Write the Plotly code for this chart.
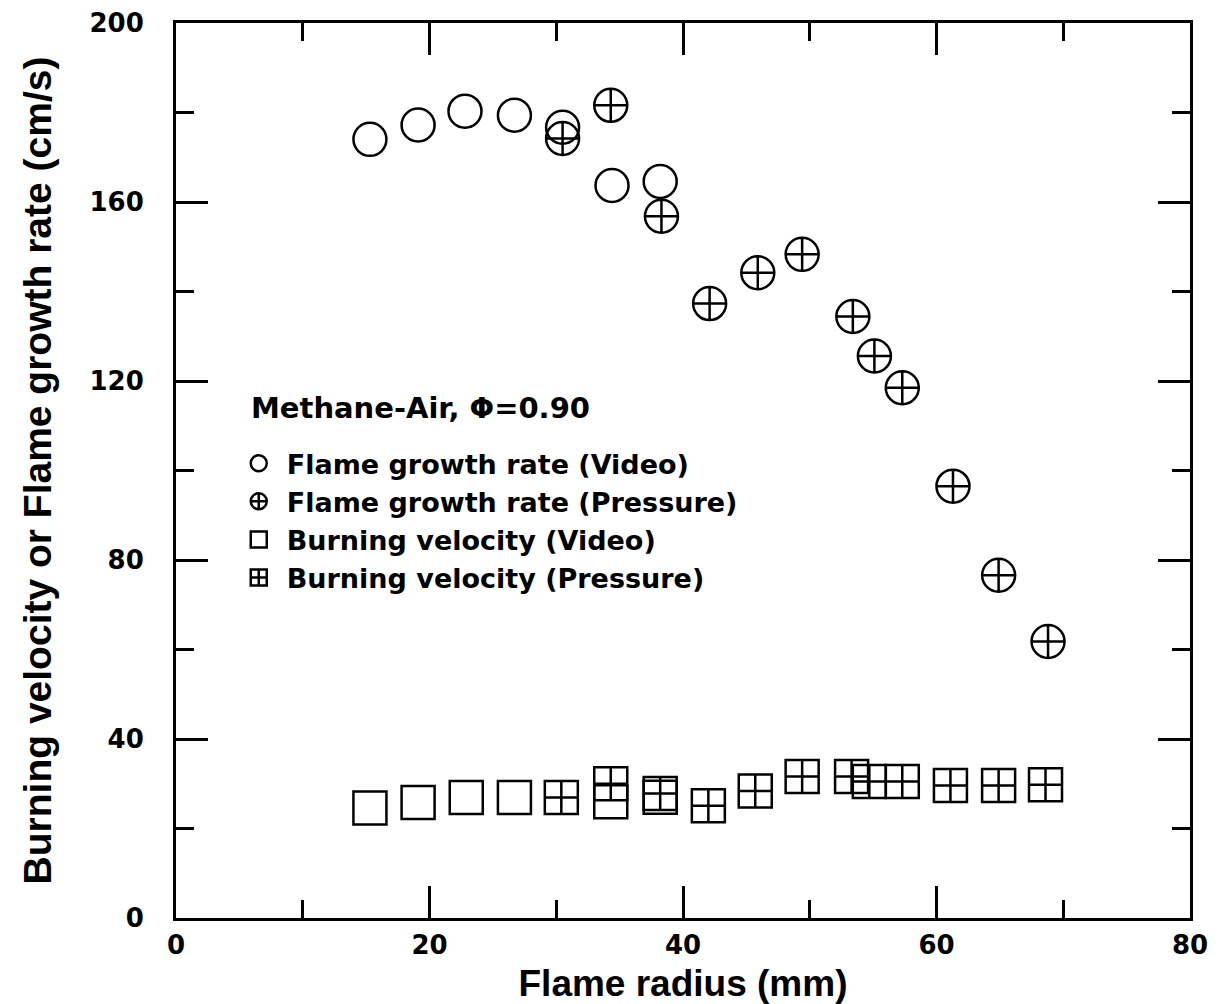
import plotly.graph_objects as go

# Flame growth rate (Video)
fgr_video_x = [15.3, 19.1, 22.8, 26.7, 30.5, 34.4, 38.2]
fgr_video_y = [174.0, 177.2, 180.3, 179.4, 176.7, 163.7, 164.6]

# Flame growth rate (Pressure)
fgr_press_x = [30.5, 34.3, 38.3, 42.1, 45.9, 49.4, 53.4, 55.1, 57.3, 61.3, 64.9, 68.8]
fgr_press_y = [174.2, 181.6, 156.8, 137.3, 144.2, 148.3, 134.4, 125.6, 118.5, 96.5, 76.6, 61.8]

# Burning velocity (Video)
bv_video_x = [15.3, 19.1, 22.9, 26.7, 34.3, 38.2]
bv_video_y = [24.6, 25.8, 26.9, 26.9, 26.0, 27.0]

# Burning velocity (Pressure)
bv_press_x = [30.4, 34.3, 38.2, 42.0, 45.7, 49.4, 53.3, 54.7, 57.3, 61.1, 64.9, 68.6]
bv_press_y = [26.9, 30.0, 27.8, 25.1, 28.4, 31.6, 31.6, 30.5, 30.5, 29.6, 29.6, 29.8]

x_ticks = [0, 20, 40, 60, 80]
y_ticks = [0, 40, 80, 120, 160, 200]

legend_title = "Methane-Air, \u03a6=0.90"
names = ["Flame growth rate (Video)", "Flame growth rate (Pressure)",
         "Burning velocity (Video)", "Burning velocity (Pressure)"]

HEAVY = dict(family="DejaVu Sans", weight="bold", color="black")
COND = dict(family="Liberation Sans", weight="bold", color="black")

fig = go.Figure()
series = [
    (fgr_video_x, fgr_video_y, "circle-open", names[0]),
    (fgr_press_x, fgr_press_y, "circle-cross-open", names[1]),
    (bv_video_x, bv_video_y, "square-open", names[2]),
    (bv_press_x, bv_press_y, "square-cross-open", names[3]),
]
for x, y, sym, nm in series:
    fig.add_trace(go.Scatter(
        x=x, y=y, mode="markers", name=nm,
        marker=dict(symbol=sym, size=33, color="black", line=dict(color="black", width=2.5)),
    ))

axis_common = dict(
    showline=True, linecolor="black", linewidth=3, mirror="allticks",
    ticks="inside", ticklen=32, tickwidth=3, tickcolor="black",
    showgrid=False, zeroline=False, automargin=False,
)

fig.update_xaxes(
    range=[0, 80], tickvals=x_ticks, ticktext=[str(v) for v in x_ticks],
    minor=dict(dtick=10, ticks="inside", ticklen=18, tickwidth=3, tickcolor="black", showgrid=False),
    tickfont=dict(size=26, **HEAVY), ticklabelstandoff=2,
    title=dict(text="Flame radius (mm)", font=dict(size=37, **COND), standoff=12),
    **axis_common,
)
fig.update_yaxes(
    range=[0, 200], tickvals=y_ticks, ticktext=[str(v) for v in y_ticks],
    minor=dict(dtick=20, ticks="inside", ticklen=18, tickwidth=3, tickcolor="black", showgrid=False),
    tickfont=dict(size=26, **HEAVY), ticklabelstandoff=24,
    title=dict(text="Burning velocity or Flame growth rate (cm/s)", font=dict(size=39, **COND), standoff=26),
    **axis_common,
)

fig.add_annotation(
    text=legend_title, xref="paper", yref="paper", x=0.072, y=0.57,
    xanchor="left", yanchor="middle", showarrow=False,
    font=dict(size=29, **HEAVY),
)

fig.update_layout(
    width=1221, height=1004,
    margin=dict(l=176, r=31, t=23, b=86),
    paper_bgcolor="white", plot_bgcolor="white",
    showlegend=True,
    legend=dict(
        x=0.054, y=0.535, xanchor="left", yanchor="top",
        bgcolor="rgba(0,0,0,0)", borderwidth=0, itemwidth=46,
        font=dict(size=27, **HEAVY), tracegroupgap=0, itemsizing="trace",
    ),
)

fig.write_html("out.html")
